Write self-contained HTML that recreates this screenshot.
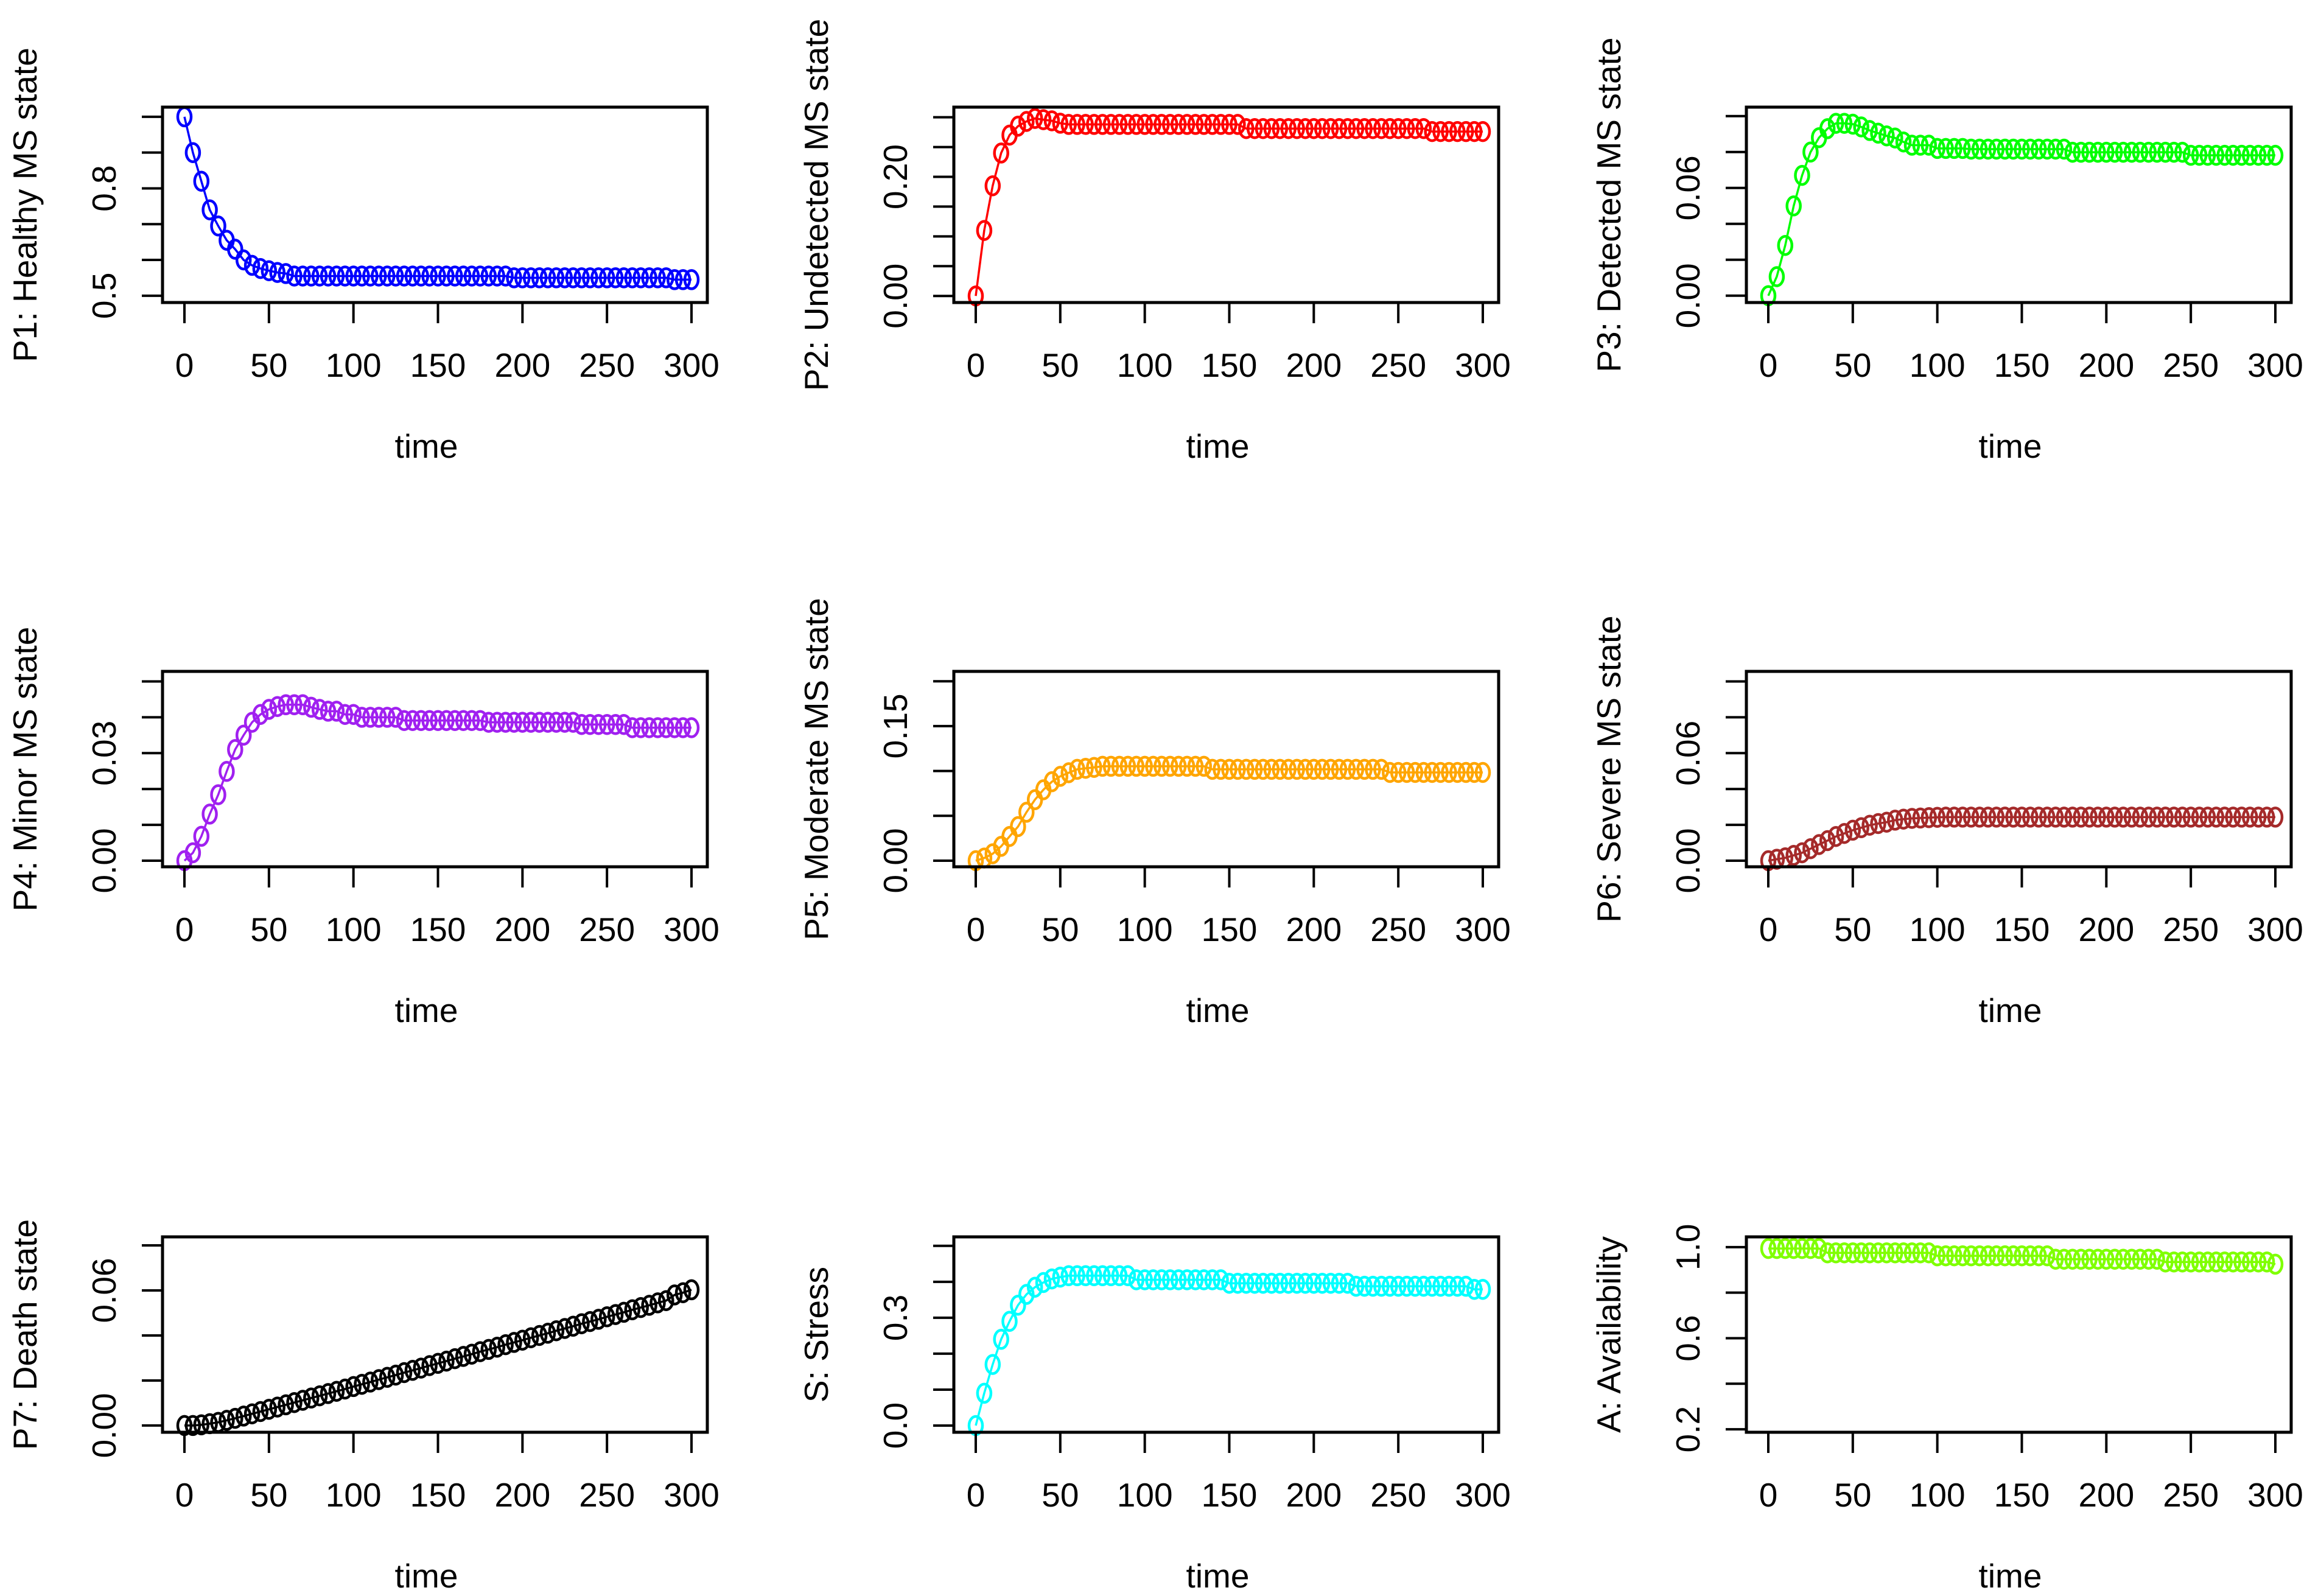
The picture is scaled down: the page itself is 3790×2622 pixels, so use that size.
<!DOCTYPE html>
<html><head><meta charset="utf-8">
<style>
html,body{margin:0;padding:0;background:#fff;}
svg{display:block;}
text{font-family:"Liberation Sans",Arial,sans-serif;fill:#000;}
</style></head>
<body>
<svg id="chart" xmlns="http://www.w3.org/2000/svg" width="3790" height="2622" viewBox="0 0 3790 2622"></svg>
<script>
var timeValues = [0,5,10,15,20,25,30,35,40,45,50,55,60,65,70,75,80,85,90,95,100,105,110,115,120,125,130,135,140,145,150,155,160,165,170,175,180,185,190,195,200,205,210,215,220,225,230,235,240,245,250,255,260,265,270,275,280,285,290,295,300];
var xTicks = [0,50,100,150,200,250,300];

var p1Values = [1.0,0.90,0.82,0.74,0.695,0.655,0.63,0.60,0.585,0.576,0.57,0.565,0.562,
0.555,0.555,0.555,0.555,0.555,0.555,0.555,0.555,0.555,0.555,0.555,0.555,0.555,0.555,0.555,0.555,0.555,0.555,0.555,0.555,0.555,0.555,0.555,0.555,0.555,0.555,
0.55,0.55,0.55,0.55,0.55,0.55,0.55,0.55,0.55,0.55,0.55,0.55,0.55,0.55,0.55,0.55,0.55,0.55,0.55,
0.545,0.545,0.545];
var p2Values = [0,0.11,0.185,0.24,0.27,0.285,0.293,0.298,0.296,0.294,0.29,
0.288,0.288,0.288,0.288,0.288,0.288,0.288,0.288,0.288,0.288,0.288,0.288,0.288,0.288,0.288,0.288,0.288,0.288,0.288,0.288,0.288,
0.281,0.281,0.281,0.281,0.281,0.281,0.281,0.281,0.281,0.281,0.281,0.281,0.281,0.281,0.281,0.281,0.281,0.281,0.281,0.281,0.281,0.281,
0.276,0.276,0.276,0.276,0.276,0.276,0.276];
var p3Values = [0,0.0106,0.028,0.050,0.067,0.080,0.088,0.093,0.096,0.096,0.0955,0.094,0.092,0.0905,0.089,0.0878,0.0856,
0.0838,0.0838,0.0838,0.082,0.082,0.082,0.082,
0.0816,0.0816,0.0816,0.0816,0.0816,0.0816,0.0816,0.0816,0.0816,0.0816,0.0816,0.0816,
0.0799,0.0799,0.0799,0.0799,0.0799,0.0799,0.0799,0.0799,0.0799,0.0799,0.0799,0.0799,0.0799,0.0799,
0.0782,0.0782,0.0782,0.0782,0.0782,0.0782,0.0782,0.0782,0.0782,0.0782,0.0782];
var p4Values = [0,0.0022,0.0068,0.013,0.0184,0.0249,0.031,0.035,0.0386,0.0408,0.0422,0.043,0.0435,0.0435,0.0435,0.0428,0.0422,0.0417,0.0417,0.0408,0.0408,
0.04,0.04,0.04,0.04,0.04,
0.0391,0.0391,0.0391,0.0391,0.0391,0.0391,0.0391,0.0391,0.0391,0.0391,
0.0386,0.0386,0.0386,0.0386,0.0386,0.0386,0.0386,0.0386,0.0386,0.0386,0.0386,
0.038,0.038,0.038,0.038,0.038,0.038,
0.0371,0.0371,0.0371,0.0371,0.0371,0.0371,0.0371,0.0371];
var p5Values = [0,0.003,0.0077,0.016,0.027,0.038,0.054,0.068,0.079,0.088,0.094,0.098,0.1018,0.103,0.104,
0.1052,0.1052,0.1052,0.1052,0.1052,0.1052,0.1052,0.1052,0.1052,0.1052,0.1052,0.1052,0.1052,
0.1018,0.1018,0.1018,0.1018,0.1018,0.1018,0.1018,0.1018,0.1018,0.1018,0.1018,0.1018,0.1018,0.1018,0.1018,0.1018,0.1018,0.1018,0.1018,0.1018,0.1018,
0.0984,0.0984,0.0984,0.0984,0.0984,0.0984,0.0984,0.0984,0.0984,0.0984,0.0984,0.0984];
var p6Values = [0,0.0008,0.0016,0.003,0.0044,0.0067,0.009,0.0112,0.0135,0.0152,0.017,0.0184,0.0198,0.0207,0.0215,0.0226,0.0232,0.0236,0.0238,0.024,0.0242,
0.0243,0.0243,0.0243,0.0243,0.0243,0.0243,0.0243,0.0243,0.0243,0.0243,0.0243,0.0243,0.0243,0.0243,0.0243,0.0243,0.0243,0.0243,0.0243,0.0243,
0.0243,0.0243,0.0243,0.0243,0.0243,0.0243,0.0243,0.0243,0.0243,0.0243,0.0243,0.0243,0.0243,0.0243,0.0243,0.0243,0.0243,0.0243,0.0243,0.0243];
var p7Values = [0,0,0.0003,0.0008,0.0014,0.0023,0.0032,0.0042,0.0052,0.0062,0.0072,0.0082,0.0092,0.0102,0.0112,0.0122,0.0132,0.0142,0.0152,0.0162,0.0173,0.0183,0.0193,0.0204,0.0214,0.0224,0.0235,0.0245,0.0255,0.0266,0.0276,0.0286,0.0297,0.0307,0.0317,0.0328,0.0338,0.0348,0.0359,0.0369,0.0379,0.039,0.04,0.041,0.0421,0.0431,0.0441,0.0452,0.0462,0.0472,0.0483,0.0493,0.0503,0.0514,0.0524,0.0534,0.0545,0.0555,0.058,0.059,0.0603];
var sValues = [0,0.09,0.17,0.24,0.29,0.335,0.365,0.385,0.398,0.408,0.413,
0.417,0.417,0.417,0.417,0.417,0.417,0.417,0.417,
0.4056,0.4056,0.4056,0.4056,0.4056,0.4056,0.4056,0.4056,0.4056,0.4056,0.4056,
0.396,0.396,0.396,0.396,0.396,0.396,0.396,0.396,0.396,0.396,0.396,0.396,0.396,0.396,0.396,
0.3876,0.3876,0.3876,0.3876,0.3876,0.3876,0.3876,0.3876,0.3876,0.3876,0.3876,0.3876,0.3876,0.3876,
0.379,0.379];
var aValues = [0.994,0.994,0.994,0.994,0.994,0.994,0.994,
0.975,0.975,0.975,0.975,0.975,0.975,0.975,0.975,0.975,0.975,0.975,0.975,0.975,
0.962,0.962,0.962,0.962,0.962,0.962,0.962,0.962,0.962,0.962,0.962,0.962,0.962,0.962,
0.947,0.947,0.947,0.947,0.947,0.947,0.947,0.947,0.947,0.947,0.947,0.947,0.947,
0.935,0.935,0.935,0.935,0.935,0.935,0.935,0.935,0.935,0.935,0.935,0.935,0.935,
0.925];

var p1Ticks=[0.5,0.6,0.7,0.8,0.9,1.0], p1Labels=[[0.5,"0.5"],[0.8,"0.8"]];
var p2Ticks=[0,0.05,0.10,0.15,0.20,0.25,0.30], p2Labels=[[0,"0.00"],[0.20,"0.20"]];
var p3Ticks=[0,0.02,0.04,0.06,0.08,0.10], p3Labels=[[0,"0.00"],[0.06,"0.06"]];
var p4Ticks=[0,0.01,0.02,0.03,0.04,0.05], p4Labels=[[0,"0.00"],[0.03,"0.03"]];
var p5Ticks=[0,0.05,0.10,0.15,0.20], p5Labels=[[0,"0.00"],[0.15,"0.15"]];
var p6Ticks=[0,0.02,0.04,0.06,0.08,0.10], p6Labels=[[0,"0.00"],[0.06,"0.06"]];
var p7Ticks=[0,0.02,0.04,0.06,0.08], p7Labels=[[0,"0.00"],[0.06,"0.06"]];
var sTicks=[0,0.1,0.2,0.3,0.4,0.5], sLabels=[[0,"0.0"],[0.3,"0.3"]];
var aTicks=[0.2,0.4,0.6,0.8,1.0], aLabels=[[0.2,"0.2"],[0.6,"0.6"],[1.0,"1.0"]];

var NS="http://www.w3.org/2000/svg";
var svg=document.getElementById('chart');
function mk(tag,attrs,parent){var e=document.createElementNS(NS,tag);for(var k in attrs)e.setAttribute(k,attrs[k]);(parent||svg).appendChild(e);return e;}

var colLeft=[267,1567,2869], rowTop=[176,1103,2032];
var BW=895, BH=321;
var panels=[
 {key:"p1",title:"P1: Healthy MS state",vals:p1Values,ticks:p1Ticks,labels:p1Labels,lo:0.481,hi:1.027,col:"#0000ff"},
 {key:"p2",title:"P2: Undetected MS state",vals:p2Values,ticks:p2Ticks,labels:p2Labels,lo:-0.011,hi:0.317,col:"#ff0000"},
 {key:"p3",title:"P3: Detected MS state",vals:p3Values,ticks:p3Ticks,labels:p3Labels,lo:-0.0038,hi:0.105,col:"#00ff00"},
 {key:"p4",title:"P4: Minor MS state",vals:p4Values,ticks:p4Ticks,labels:p4Labels,lo:-0.0017,hi:0.0528,col:"#a020f0"},
 {key:"p5",title:"P5: Moderate MS state",vals:p5Values,ticks:p5Ticks,labels:p5Labels,lo:-0.0068,hi:0.211,col:"#ffa500"},
 {key:"p6",title:"P6: Severe MS state",vals:p6Values,ticks:p6Ticks,labels:p6Labels,lo:-0.0034,hi:0.1056,col:"#a52a2a"},
 {key:"p7",title:"P7: Death state",vals:p7Values,ticks:p7Ticks,labels:p7Labels,lo:-0.003,hi:0.0838,col:"#000000"},
 {key:"s",title:"S: Stress",vals:sValues,ticks:sTicks,labels:sLabels,lo:-0.0186,hi:0.525,col:"#00ffff"},
 {key:"a",title:"A: Availability",vals:aValues,ticks:aTicks,labels:aLabels,lo:0.187,hi:1.045,col:"#7fff00"}
];

panels.forEach(function(p,i){
  var L=colLeft[i%3], T=rowTop[Math.floor(i/3)], B=T+BH;
  var g=mk('g',{});
  
  
  function xs(t){return L+36+(t-0)*(833/300);}
  function ys(v){return B-(v-p.lo)/(p.hi-p.lo)*BH;}
  var d="";
  for(var k=0;k<timeValues.length;k++){d+=(k?"L":"M")+xs(timeValues[k]).toFixed(1)+","+ys(p.vals[k]).toFixed(1);}
  var line=mk('path',{d:d,fill:"none",stroke:p.col,"stroke-width":3.5},g);
  
  
  for(var k=0;k<timeValues.length;k++){
    var c=mk('ellipse',{cx:xs(timeValues[k]).toFixed(1),cy:ys(p.vals[k]).toFixed(1),rx:11,ry:15,fill:"none",stroke:p.col,"stroke-width":4.5},g);
    
    
  }
  var box=mk('rect',{x:L,y:T,width:BW,height:BH,fill:"none",stroke:"#000","stroke-width":5},g);
  
  
  xTicks.forEach(function(t){
    var tk=mk('line',{x1:xs(t),x2:xs(t),y1:B,y2:B+34,stroke:"#000","stroke-width":4},g);
    
    
    var tl=mk('text',{x:xs(t),y:B+103,"text-anchor":"middle","dominant-baseline":"central","font-size":55},g);
    
    
    tl.textContent=String(t);
  });
  var xt=mk('text',{x:L+BW/2-14,y:B+236,"text-anchor":"middle","dominant-baseline":"central","font-size":55},g);
  
  
  xt.textContent="time";
  p.ticks.forEach(function(v){
    var tk=mk('line',{x1:L-34,x2:L,y1:ys(v),y2:ys(v),stroke:"#000","stroke-width":4},g);
    
    
  });
  p.labels.forEach(function(lb){
    var tl=mk('text',{transform:"translate("+(L-96)+","+ys(lb[0]).toFixed(1)+") rotate(-90)","text-anchor":"middle","dominant-baseline":"central","font-size":55},g);
    
    
    tl.textContent=lb[1];
  });
  var yt=mk('text',{transform:"translate("+(L-226)+","+(T+BH/2)+") rotate(-90)","text-anchor":"middle","dominant-baseline":"central","font-size":55},g);
  
  
  yt.textContent=p.title;
});
</script>
</body></html>
